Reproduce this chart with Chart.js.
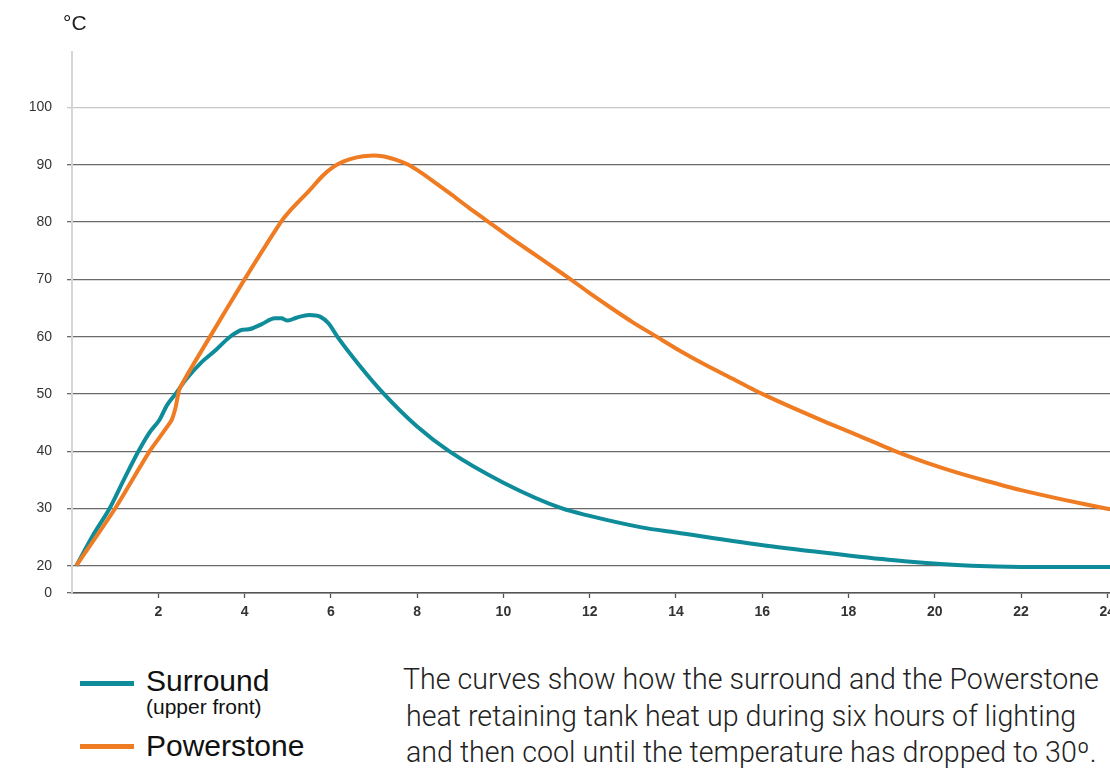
<!DOCTYPE html>
<html>
<head>
<meta charset="utf-8">
<script src="https://cdn.jsdelivr.net/npm/chart.js@4"></script>
<style>
  html, body { margin: 0; padding: 0; background: #fff; overflow: hidden; }
  body { width: 1110px; height: 769px; position: relative; font-family: "Liberation Sans", Arial, sans-serif; }
  #wrap { position: absolute; left: 0; top: 0; width: 1116px; height: 640px; }
  #unit { position: absolute; left: 63px; top: 11px; font-size: 21px; color: #222; }
  .key { position: absolute; left: 80px; width: 54px; height: 5px; }
  .lbl { position: absolute; left: 146px; color: #111; line-height: 1; white-space: nowrap; }
  #note { position: absolute; left: 403px; top: 661px; font-family: "Roboto", "Liberation Sans", sans-serif;
          font-weight: 300; font-size: 28.6px; line-height: 36.5px; color: #222; white-space: nowrap; }
</style>
</head>
<body>
<div id="wrap"><canvas id="tempChart"></canvas></div>
<div id="unit">°C</div>

<div class="key" style="top:681px; background:#0e8c9a"></div>
<div class="lbl" style="top:666px; font-size:30px">Surround</div>
<div class="lbl" style="top:696px; font-size:21px">(upper front)</div>
<div class="key" style="top:744px; background:#ef7b22"></div>
<div class="lbl" style="top:731px; font-size:30px">Powerstone</div>

<div id="note">
  <div>The curves show how the surround and the Powerstone</div>
  <div style="margin-left:3px">heat retaining tank heat up during six hours of lighting</div>
  <div style="margin-left:3px">and then cool until the temperature has dropped to 30º.</div>
</div>

<script>
// ---------- Data (hours after lighting, °C) ----------
const surroundHours = [0.1, 0.5, 0.87, 1.2, 1.54, 1.8, 2.03, 2.2, 2.41, 2.64, 3.0, 3.34, 3.65, 3.95, 4.1, 4.4, 4.7, 4.85, 5.0, 5.2, 5.5, 5.75, 5.95, 6.15, 6.65, 7.23, 8.0, 8.74, 10, 11.36, 12, 13.2, 14, 16.2, 18, 19.3, 20.85, 22, 24.2];
const surroundTemp = [20, 25.5, 30, 35, 40, 43.3, 45.5, 48, 50.1, 52.5, 55.5, 57.7, 59.9, 61.2, 61.3, 62.2, 63.2, 63.2, 62.8, 63.3, 63.8, 63.5, 62.3, 60, 55.1, 50, 44.3, 40, 34.5, 30, 28.7, 26.7, 25.8, 23.4, 21.8, 20.8, 20, 19.8, 19.8];

const powerHours = [0.1, 1.0, 1.8, 2.3, 2.4, 2.5, 3.2, 4.0, 4.84, 5.03, 5.5, 5.8, 6.05, 6.3, 6.6, 6.9, 7.2, 7.5, 7.8, 8.1, 8.4, 8.8, 9.2, 9.66, 10.1, 10.6, 11.1, 11.56, 12, 12.5, 13, 13.55, 14.1, 14.7, 15.3, 16, 16.7, 17.5, 18.3, 19.08, 19.8, 20.5, 21.2, 22, 23, 23.97, 24.2];
const powerTemp = [20, 30, 40, 45.3, 47.6, 51, 60, 70, 80, 81.8, 85.5, 88, 89.6, 90.6, 91.3, 91.6, 91.5, 90.9, 90, 88.6, 87, 84.8, 82.5, 80, 77.6, 75, 72.4, 70, 67.6, 65, 62.5, 60, 57.5, 55, 52.7, 50, 47.6, 45, 42.5, 40, 38, 36.3, 34.8, 33.2, 31.5, 30, 29.7];

const xTicks = [2, 4, 6, 8, 10, 12, 14, 16, 18, 20, 22, 24];
const yTicks = [20, 30, 40, 50, 60, 70, 80, 90, 100];
const yTickLabels = ["0", "20", "30", "40", "50", "60", "70", "80", "90", "100"];

// axis is broken below 20: the bottom of the plot is labelled 0
const Y_MIN = 15.24, Y_MAX = 109.7, X_MAX = 24.2;

const TEAL = "#0e8c9a", ORANGE = "#ef7b22";

const pts = (xs, ys) => xs.map((x, i) => ({ x, y: ys[i] }));

const ctx = document.getElementById("tempChart").getContext("2d");
new Chart(ctx, {
  type: "line",
  data: {
    datasets: [
      {
        label: "Powerstone",
        data: pts(powerHours, powerTemp),
        borderColor: ORANGE,
        borderWidth: 4,
        borderJoinStyle: "round",
        pointRadius: 0,
        tension: 0.2,
      },
      {
        label: "Surround (upper front)",
        data: pts(surroundHours, surroundTemp),
        borderColor: TEAL,
        borderWidth: 4,
        pointRadius: 0,
        cubicInterpolationMode: "monotone",
      },
    ],
  },
  options: {
    responsive: true,
    maintainAspectRatio: false,
    animation: false,
    layout: { padding: { top: 52, left: 0, right: 0, bottom: 0 } },
    plugins: { legend: { display: false }, tooltip: { enabled: false } },
    scales: {
      x: {
        type: "linear",
        min: 0,
        max: X_MAX,
        afterBuildTicks: (axis) => { axis.ticks = xTicks.map((v) => ({ value: v })); },
        afterFit: (axis) => { axis.height = 47; axis.paddingLeft = 0; axis.paddingRight = 0; },
        ticks: {
          color: "#333",
          font: { family: "Liberation Sans", size: 14, weight: "bold" },
          padding: 6,
          maxRotation: 0,
        },
        grid: { drawOnChartArea: false, drawTicks: true, tickLength: 5, tickColor: "#555", tickWidth: 1.3 },
        border: { color: "#555", width: 1.5 },
      },
      y: {
        min: Y_MIN,
        max: Y_MAX,
        afterBuildTicks: (axis) => { axis.ticks = [Y_MIN, ...yTicks].map((v) => ({ value: v })); },
        afterFit: (axis) => { axis.width = 72; },
        ticks: {
          color: "#333",
          font: { family: "Liberation Sans", size: 14 },
          padding: 15,
          callback: (v, i) => yTickLabels[i],
        },
        grid: {
          color: (c) => (c.tick && c.tick.value === 100 ? "#c8c8c8" : "#6a6a6a"),
          tickColor: (c) => (c.tick && c.tick.value === 100 ? "#c8c8c8" : "#6a6a6a"),
          lineWidth: 1.3,
          tickLength: 5,
        },
        border: { color: "#d6d6d6", width: 2 },
      },
    },
  },
});
</script>
</body>
</html>
